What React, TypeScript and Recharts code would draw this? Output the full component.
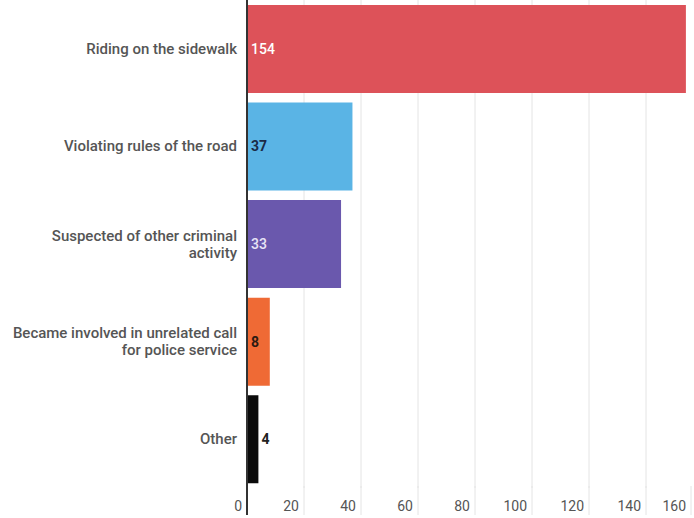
import { Bar, BarChart, CartesianGrid, Cell, LabelList, XAxis, YAxis } from "recharts";

// Reasons for bicycle stops, horizontal bars with inline value labels.

const categories = [
  "Riding on the sidewalk",
  "Violating rules of the road",
  "Suspected of other criminal activity",
  "Became involved in unrelated call for police service",
  "Other",
];
const counts = [154, 37, 33, 8, 4];
const barColors = ["#dd5259", "#5ab4e5", "#6a58ad", "#ef6a35", "#0b0b0b"];
const labelColors = ["#ffffff", "#1b2a45", "#e8e4f6", "#2a1a12", "#222222"];
const xTicks = [0, 20, 40, 60, 80, 100, 120, 140, 160];
const yLines: Record<string, string[]> = {
  "Suspected of other criminal activity": ["Suspected of other criminal", "activity"],
  "Became involved in unrelated call for police service": [
    "Became involved in unrelated call",
    "for police service",
  ],
};

const data = categories.map((c, i) => ({ name: c, value: counts[i], idx: i }));

const FONT = "Roboto, 'Noto Sans', sans-serif";

function YTick(props: any) {
  const { x, y, payload } = props;
  const lines = yLines[payload.value] ?? [payload.value];
  const lh = 17;
  const start = y - ((lines.length - 1) * lh) / 2;
  return (
    <text
      x={x}
      y={start}
      textAnchor="end"
      dominantBaseline="central"
      fill="#555"
      fontSize={15}
      fontWeight={500}
      fontFamily={FONT}
    >
      {lines.map((l: string, i: number) => (
        <tspan key={i} x={x} y={start + i * lh} dominantBaseline="central">
          {l}
        </tspan>
      ))}
    </text>
  );
}

function XTick(props: any) {
  const { x, y, payload } = props;
  const zero = payload.value === 0;
  return (
    <g>
      <line
        x1={x}
        x2={x}
        y1={y - 2}
        y2={y + 27}
        stroke={zero ? "#333" : "#e4e4e4"}
        strokeWidth={zero ? 2 : 1}
      />
      <text
        x={x - 5}
        y={y + 18}
        textAnchor="end"
        dominantBaseline="central"
        fill="#555"
        fontSize={14}
        fontFamily={FONT}
      >
        {payload.value}
      </text>
    </g>
  );
}

function ValueLabel(props: any) {
  const { x, y, width, height, value, index } = props;
  const outside = width < 20;
  return (
    <text
      x={outside ? x + width + 3 : x + 4}
      y={y + height / 2}
      dominantBaseline="central"
      fill={labelColors[index]}
      fontSize={14}
      fontWeight={index === 0 || index === 2 ? 500 : 700}
      fontFamily={FONT}
    >
      {value}
    </text>
  );
}

export default function App() {
  return (
    <div
      style={{
        position: "absolute",
        left: 0,
        top: 0,
        width: 694,
        height: 518,
        overflow: "hidden",
        background: "#fff",
      }}
    >
      <BarChart
        width={703}
        height={518}
        data={data}
        layout="vertical"
        margin={{ top: 0, right: 0, bottom: 0, left: 0 }}
        barCategoryGap="5%"
      >
        <CartesianGrid horizontal={false} stroke="#e4e4e4" />
        <XAxis
          type="number"
          domain={[0, 160]}
          ticks={xTicks}
          height={30}
          axisLine={false}
          tickLine={false}
          tickSize={0}
          tickMargin={0}
          tick={<XTick />}
        />
        <YAxis
          type="category"
          dataKey="name"
          width={247}
          tickLine={false}
          tickSize={0}
          tickMargin={10}
          axisLine={{ stroke: "#333", strokeWidth: 2 }}
          tick={<YTick />}
        />
        <Bar dataKey="value" isAnimationActive={false}>
          {data.map((d, i) => (
            <Cell key={d.name} fill={barColors[i]} />
          ))}
          <LabelList dataKey="value" content={<ValueLabel />} />
        </Bar>
      </BarChart>
    </div>
  );
}
